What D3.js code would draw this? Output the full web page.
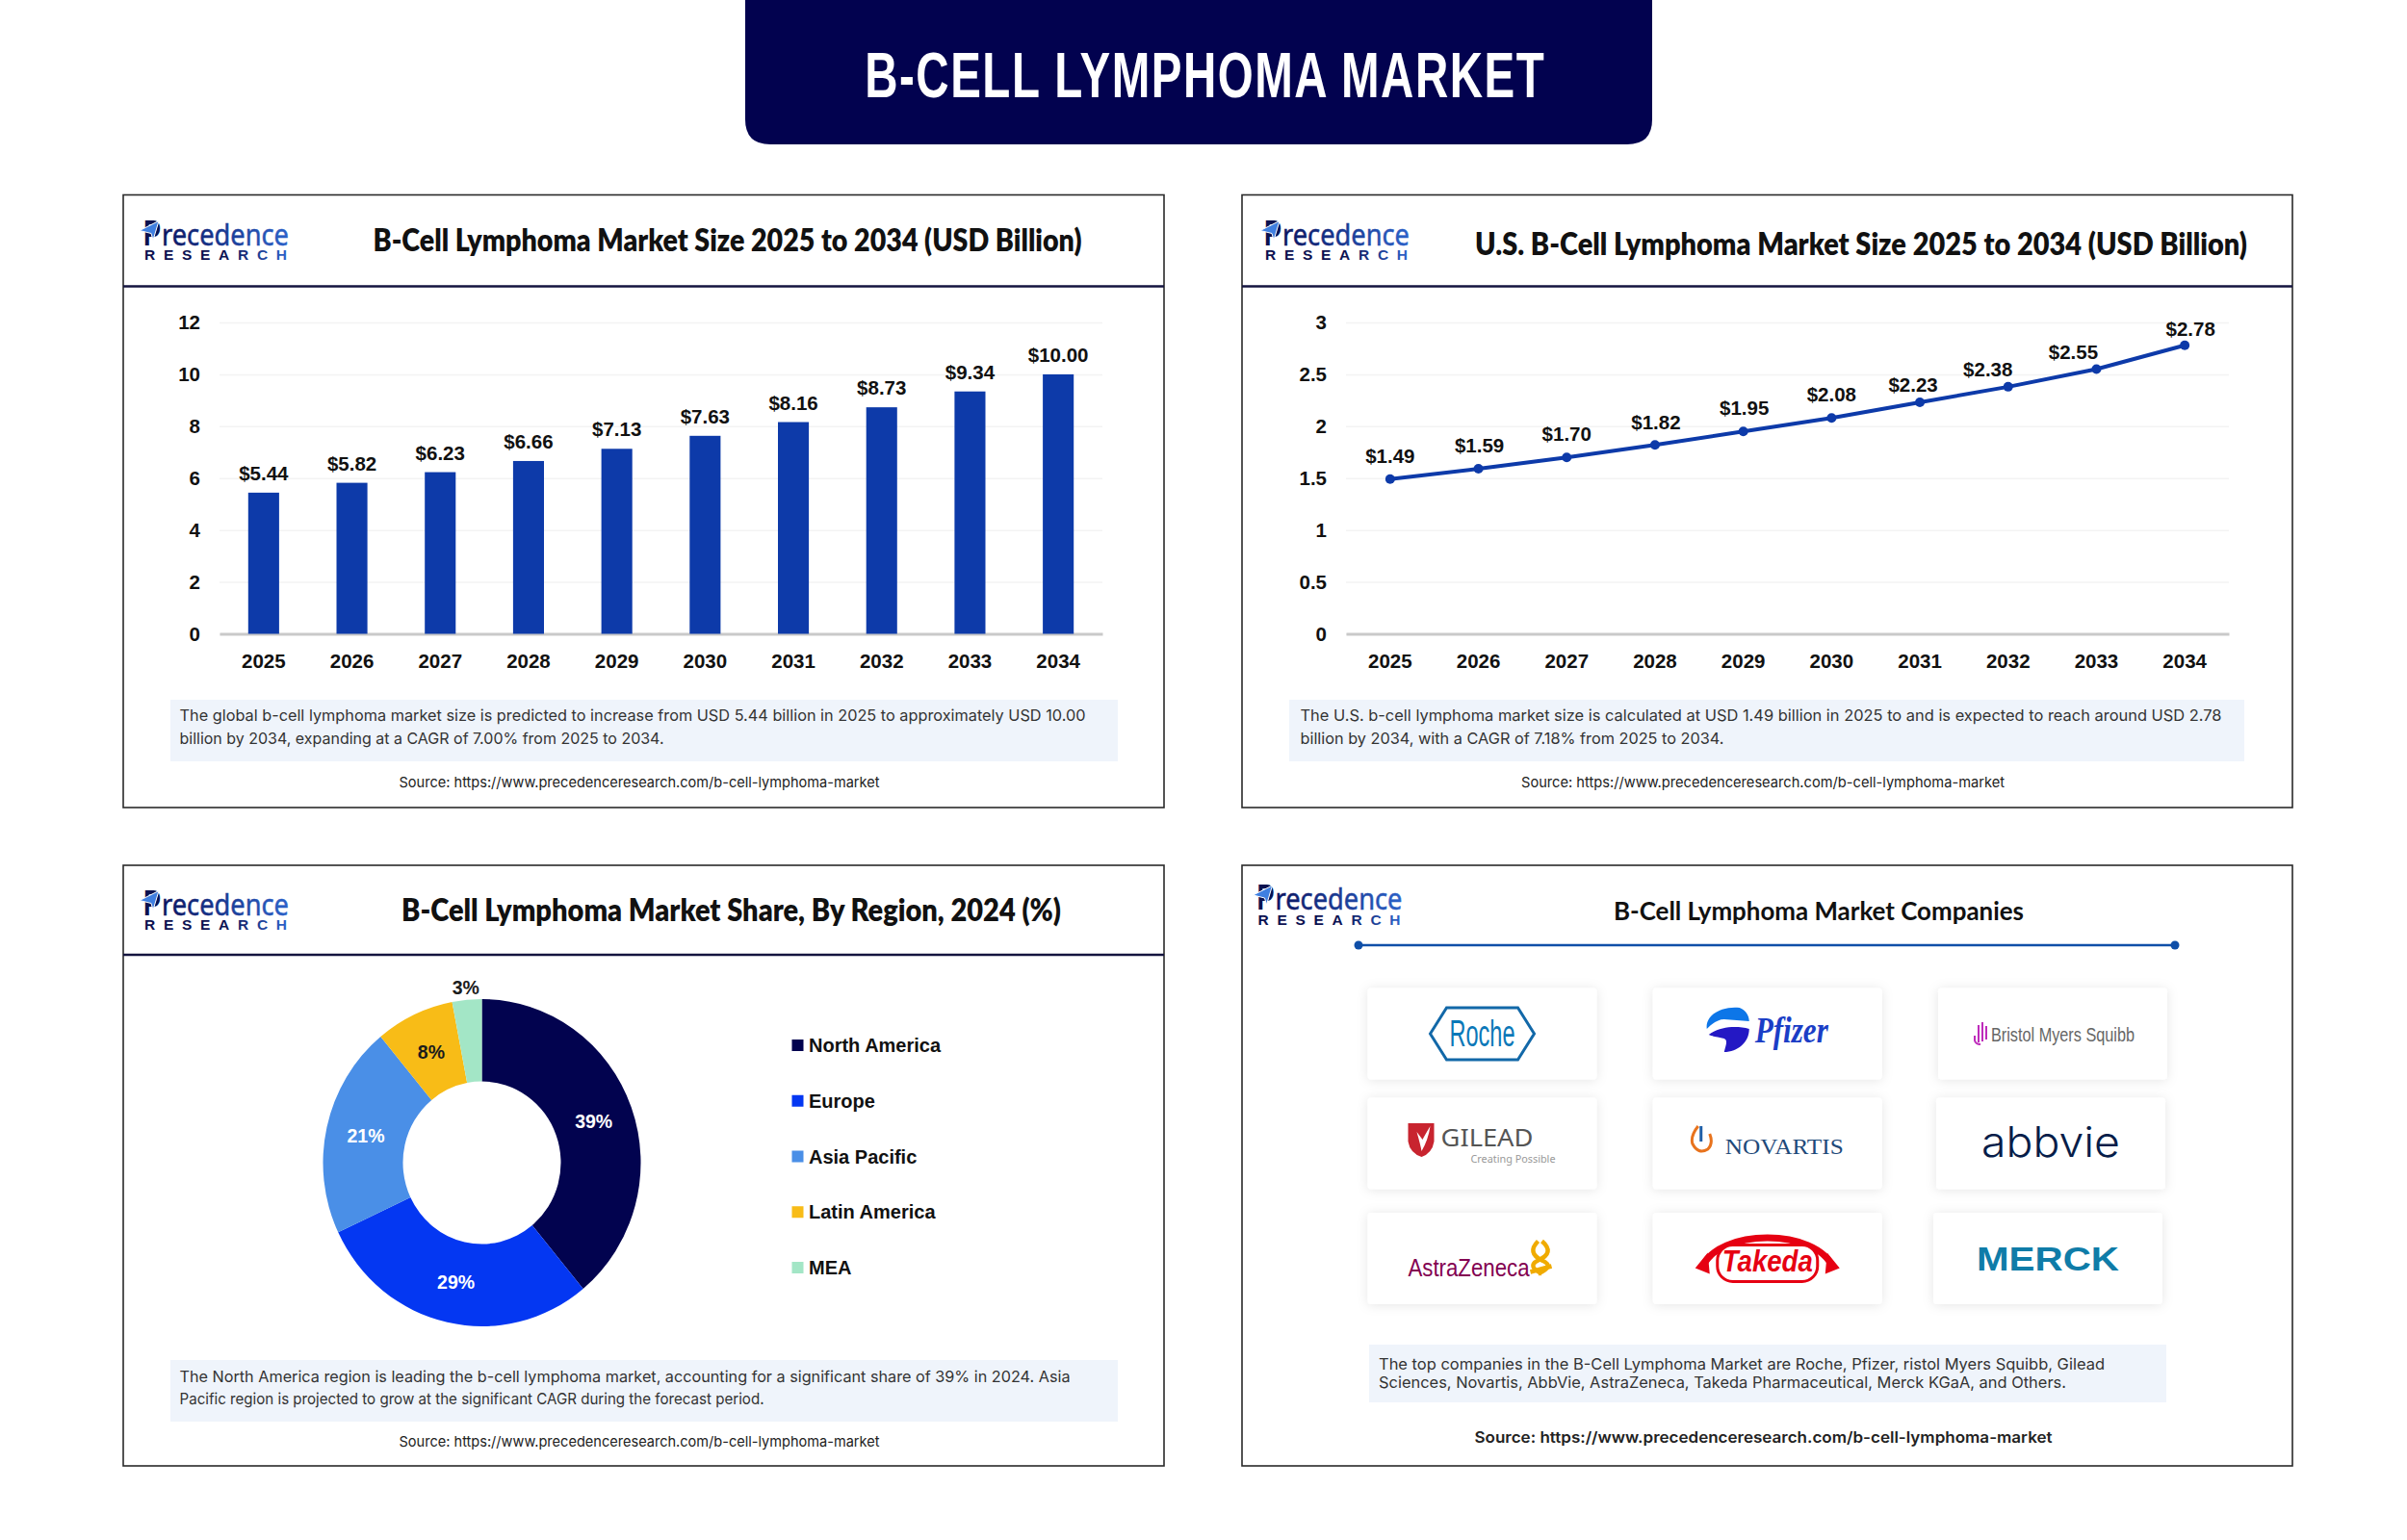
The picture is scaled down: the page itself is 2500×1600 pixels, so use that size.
<!DOCTYPE html>
<html>
<head>
<meta charset="utf-8">
<script src="https://cdn.jsdelivr.net/npm/d3@7"></script>
<style>
  html, body { margin: 0; padding: 0; background: #fff; }
  svg { display: block; }
  .bold-num { font-family: "Liberation Sans", Arial, sans-serif; font-weight: 700; font-size: 20.5px; fill: #111; }
  .panel-title { font-family: Lato, sans-serif; font-weight: 800; font-size: 32px; fill: #111; text-anchor: middle; }
  .body-text { font-family: Inter, sans-serif; font-size: 16.5px; fill: #333; }
  .source { font-family: Inter, sans-serif; font-size: 15px; fill: #222; }
</style>
</head>
<body>
<svg id="chart" width="2500" height="1600"></svg>
<script>
// Chart data
const years = ['2025', '2026', '2027', '2028', '2029', '2030', '2031', '2032', '2033', '2034'];
const globalSize = [5.44, 5.82, 6.23, 6.66, 7.13, 7.63, 8.16, 8.73, 9.34, 10.00];
const usSize = [1.49, 1.59, 1.70, 1.82, 1.95, 2.08, 2.23, 2.38, 2.55, 2.78];
const globalTicks = [0, 2, 4, 6, 8, 10, 12];
const usTicks = [0, 0.5, 1, 1.5, 2, 2.5, 3];
const regions = ['North America', 'Europe', 'Asia Pacific', 'Latin America', 'MEA'];
const regionShare = [39, 29, 21, 8, 3];
const regionColors = ['#02034f', '#0437f2', '#4a8fe7', '#f8bc17', '#a3e6c6'];

const NAVY = '#02024f';
const BLUE = '#0d3aa9';
const SOURCE = 'Source: https://www.precedenceresearch.com/b-cell-lymphoma-market';

const svg = d3.select('#chart');
const defs = svg.append('defs');

const logoGrad = defs.append('linearGradient').attr('id', 'logo-grad');
logoGrad.append('stop').attr('offset', '0%').attr('stop-color', '#0a1560');
logoGrad.append('stop').attr('offset', '100%').attr('stop-color', '#2b62c9');

const researchGrad = defs.append('linearGradient').attr('id', 'research-grad');
researchGrad.append('stop').attr('offset', '55%').attr('stop-color', '#0a1250');
researchGrad.append('stop').attr('offset', '100%').attr('stop-color', '#2b62c9');

const cardShadow = defs.append('filter').attr('id', 'card-shadow')
    .attr('x', '-15%').attr('y', '-25%').attr('width', '130%').attr('height', '150%');
cardShadow.append('feDropShadow')
    .attr('dx', 0).attr('dy', 1).attr('stdDeviation', 6)
    .attr('flood-color', '#000').attr('flood-opacity', 0.1);

// Squeeze or stretch a text to the width measured on the reference
function fit(sel, width) {
    return sel.attr('textLength', width).attr('lengthAdjust', 'spacingAndGlyphs');
}

function addText(parent, cls, x, y, str, width) {
    const t = parent.append('text').attr('class', cls).attr('x', x).attr('y', y).text(str);
    if (width) fit(t, width);
    return t;
}

// Top banner
svg.append('path')
    .attr('d', 'M774,0 H1716 V124 Q1716,150 1690,150 H800 Q774,150 774,124 Z')
    .attr('fill', NAVY);
svg.append('text')
    .attr('transform', 'translate(1251,101) scale(0.72,1)')
    .attr('text-anchor', 'middle')
    .attr('font-family', '"Liberation Sans Narrow", "Liberation Sans", sans-serif')
    .attr('font-weight', 700)
    .attr('font-size', 66)
    .attr('fill', '#fff')
    .attr('textLength', 980)
    .attr('lengthAdjust', 'spacing')
    .text('B-CELL LYMPHOMA MARKET');

function drawPanel(x0, y0, x1, y1, headerY) {
    svg.append('rect')
        .attr('x', x0).attr('y', y0)
        .attr('width', x1 - x0).attr('height', y1 - y0)
        .attr('fill', '#fff').attr('stroke', '#2a2a2a').attr('stroke-width', 1.6);
    if (headerY) {
        svg.append('line')
            .attr('x1', x0).attr('x2', x1).attr('y1', headerY).attr('y2', headerY)
            .attr('stroke', '#14143f').attr('stroke-width', 2.5);
    }
}

// Precedence Research wordmark, x = stem of the P, y = baseline of the big word
function drawLogo(x, y) {
    const g = svg.append('g').attr('transform', `translate(${x},${y})`);
    fit(g.append('text').attr('x', -1).attr('y', 0)
        .attr('font-family', '"Liberation Sans", sans-serif').attr('font-weight', 700)
        .attr('font-size', 36).attr('fill', '#0a1250').text('P'), 18);
    g.append('path').attr('d', 'M-5,-15 L15,-25 L9,-5 L7,-12 Z').attr('fill', '#3f7fe0').attr('stroke', '#fff').attr('stroke-width', 1);
    fit(g.append('text').attr('x', 18).attr('y', 0)
        .attr('font-family', '"Noto Sans", sans-serif').attr('font-size', 31)
        .attr('fill', 'url(#logo-grad)').attr('stroke', 'url(#logo-grad)').attr('stroke-width', 0.5)
        .text('recedence'), 132);
    g.append('text').attr('x', 0).attr('y', 15.5)
        .attr('font-family', '"Liberation Sans", sans-serif').attr('font-weight', 700)
        .attr('font-size', 15.5).attr('fill', 'url(#research-grad)')
        .attr('textLength', 148).attr('lengthAdjust', 'spacing').text('RESEARCH');
}

function drawNote(box, lines, source) {
    svg.append('rect')
        .attr('x', box.x).attr('y', box.y).attr('width', box.w).attr('height', box.h)
        .attr('fill', box.fill || '#eff4fb');
    lines.forEach(l => addText(svg, box.cls || 'body-text', l.x, l.y, l.s, l.w));
    addText(svg, source.cls || 'source', source.x, source.y, SOURCE, source.w);
}

// Shared y axis + x axis for both time series
function drawAxes(g, xScale, yScale, ticks) {
    const [x0, x1] = xScale.range();
    const yAxis = d3.axisLeft(yScale)
        .tickValues(ticks)
        .tickFormat(d => d)
        .tickSize(-(x1 - x0))
        .tickPadding(20);
    const ya = g.append('g').attr('transform', `translate(${x0},0)`).call(yAxis);
    ya.select('.domain').remove();
    ya.selectAll('line').attr('stroke', '#f3f3f3').attr('stroke-width', 1.5);
    ya.selectAll('text').attr('class', 'bold-num');

    const xAxis = d3.axisBottom(xScale).tickSize(0).tickPadding(21);
    const xa = g.append('g').attr('transform', `translate(0,${yScale(0)})`).call(xAxis);
    xa.select('.domain').attr('stroke', '#c9c9c9').attr('stroke-width', 3);
    xa.selectAll('text').attr('class', 'bold-num');
}

// Panel 1: global market size, bars
function drawGlobalBars() {
    drawPanel(128, 202.5, 1209, 839, 297.5);
    drawLogo(150, 254.5);
    addText(svg, 'panel-title', 755.5, 260.5, 'B-Cell Lymphoma Market Size 2025 to 2034 (USD Billion)', 736);

    const x = d3.scaleBand().domain(years).range([228, 1145]).paddingInner(0.65).paddingOuter(0.325);
    const y = d3.scaleLinear().domain([0, 12]).range([658.5, 335]);
    const g = svg.append('g');
    drawAxes(g, x, y, globalTicks);
    g.selectAll('.bar').data(globalSize).enter().append('rect')
        .attr('class', 'bar')
        .attr('x', (d, i) => x(years[i]))
        .attr('y', d => y(d))
        .attr('width', x.bandwidth())
        .attr('height', d => y(0) - y(d))
        .attr('fill', BLUE);
    g.selectAll('.bar-label').data(globalSize).enter().append('text')
        .attr('class', 'bold-num')
        .attr('x', (d, i) => x(years[i]) + x.bandwidth() / 2)
        .attr('y', d => y(d) - 13)
        .attr('text-anchor', 'middle')
        .text(d => '$' + d.toFixed(2));

    drawNote({ x: 177, y: 727, w: 984, h: 64 }, [
        { x: 186.5, y: 749, w: 941, s: 'The global b-cell lymphoma market size is predicted to increase from USD 5.44 billion in 2025 to approximately USD 10.00' },
        { x: 186.5, y: 773, w: 503, s: 'billion by 2034, expanding at a CAGR of 7.00% from 2025 to 2034.' }
    ], { x: 414.5, y: 818, w: 499 });
}

// Panel 2: U.S. market size, line
function drawUsLine() {
    drawPanel(1290, 202.5, 2381, 839, 297.5);
    drawLogo(1314, 254.5);
    addText(svg, 'panel-title', 1933, 265, 'U.S. B-Cell Lymphoma Market Size 2025 to 2034 (USD Billion)', 802);

    const x = d3.scaleBand().domain(years).range([1398, 2315]);
    const y = d3.scaleLinear().domain([0, 3]).range([658.5, 335]);
    const px = i => x(years[i]) + x.bandwidth() / 2;
    const g = svg.append('g');
    drawAxes(g, x, y, usTicks);

    const line = d3.line().x((d, i) => px(i)).y(d => y(d));
    g.append('path').datum(usSize)
        .attr('d', line)
        .attr('fill', 'none').attr('stroke', BLUE).attr('stroke-width', 4);
    g.selectAll('.dot').data(usSize).enter().append('circle')
        .attr('cx', (d, i) => px(i))
        .attr('cy', d => y(d))
        .attr('r', 5)
        .attr('fill', BLUE);

    // labels drift left of the points towards the end of the line
    const labelDx = [0, 1, 0, 1, 1, 0, -7, -21, -24, 6];
    const labelDy = [17, 17, 17, 16, 17, 17, 11, 11, 11, 10];
    g.selectAll('.line-label').data(usSize).enter().append('text')
        .attr('class', 'bold-num')
        .attr('x', (d, i) => px(i) + labelDx[i])
        .attr('y', (d, i) => y(d) - labelDy[i])
        .attr('text-anchor', 'middle')
        .text(d => '$' + d.toFixed(2));

    drawNote({ x: 1339, y: 727, w: 992, h: 64 }, [
        { x: 1350.5, y: 749, w: 957, s: 'The U.S. b-cell lymphoma market size is calculated at USD 1.49 billion in 2025 to and is expected to reach around USD 2.78' },
        { x: 1350.5, y: 773, w: 440, s: 'billion by 2034, with a CAGR of 7.18% from 2025 to 2034.' }
    ], { x: 1580, y: 818, w: 502 });
}

// Panel 3: regional share, donut
function drawRegionDonut() {
    drawPanel(128, 899, 1209, 1523, 992);
    drawLogo(150, 950.5);
    addText(svg, 'panel-title', 759.5, 956.5, 'B-Cell Lymphoma Market Share, By Region, 2024 (%)', 685);

    // the ring is slightly taller than wide in the reference
    const stretchY = 1.03;
    const pie = d3.pie().sort(null)(regionShare);
    const arc = d3.arc().innerRadius(82).outerRadius(165);
    const g = svg.append('g').attr('transform', 'translate(500.5,1208)');
    g.append('g').attr('transform', `scale(1,${stretchY})`)
        .selectAll('path').data(pie).enter().append('path')
        .attr('d', arc)
        .attr('fill', (d, i) => regionColors[i]);

    // the thin MEA slice has its label outside the ring
    const outerArc = d3.arc().innerRadius(178).outerRadius(178);
    g.selectAll('text').data(pie).enter().append('text')
        .attr('class', 'bold-num')
        .attr('transform', (d, i) => {
            const [cx, cy] = (i === 4 ? outerArc : arc).centroid(d);
            return `translate(${cx},${cy * stretchY})`;
        })
        .attr('dy', '0.36em')
        .attr('text-anchor', 'middle')
        .style('font-size', '19.5px')
        .style('fill', (d, i) => i < 3 ? '#fff' : '#1c1c1c')
        .text(d => d.value + '%');

    const legend = d3.scalePoint().domain(regions).range([1086, 1317]);
    regions.forEach((r, i) => {
        svg.append('rect')
            .attr('x', 822.5).attr('y', legend(r) - 6)
            .attr('width', 12).attr('height', 12)
            .attr('fill', regionColors[i]);
        svg.append('text')
            .attr('class', 'bold-num')
            .attr('x', 840).attr('y', legend(r) + 7)
            .style('font-size', '20px')
            .text(r);
    });

    drawNote({ x: 177, y: 1413, w: 984, h: 64 }, [
        { x: 186.5, y: 1436, w: 925, s: 'The North America region is leading the b-cell lymphoma market, accounting for a significant share of 39% in 2024. Asia' },
        { x: 186.5, y: 1459, w: 607, s: 'Pacific region is projected to grow at the significant CAGR during the forecast period.' }
    ], { x: 414.5, y: 1503, w: 499 });
}

// Company logos, drawn around the centre of their card
const logoDrawers = {
    Roche(g) {
        g.append('path').attr('d', 'M-54,0 L-37,-27 L37,-27 L54,0 L37,27 L-37,27 Z')
            .attr('fill', 'none').attr('stroke', '#1268a8').attr('stroke-width', 3);
        fit(g.append('text').attr('x', 0).attr('y', 13).attr('text-anchor', 'middle')
            .attr('font-family', '"Liberation Sans Narrow", sans-serif').attr('font-size', 38)
            .attr('fill', '#0b78b8').text('Roche'), 68);
    },
    Pfizer(g) {
        const icon = g.append('g').attr('transform', 'translate(-41,-3)');
        icon.append('path').attr('d', 'M-22,-2 C-24,-18 -4,-26 12,-24 C18,-22 22,-16 22,-10 L-4,-12 C-10,-12 -16,-8 -22,-2 Z').attr('fill', '#0d76e8');
        icon.append('path').attr('d', 'M-20,4 C-10,-4 8,-6 22,-2 C22,12 10,22 -4,22 C-2,14 0,10 -4,8 C-10,6 -16,6 -20,4 Z').attr('fill', '#2418c4');
        fit(g.append('text').attr('x', -13).attr('y', 9)
            .attr('font-family', '"Liberation Serif", serif').attr('font-style', 'italic').attr('font-weight', 700)
            .attr('font-size', 38).attr('fill', '#1b3ec6').text('Pfizer'), 76);
    },
    'Bristol Myers Squibb'(g) {
        const hand = g.append('g').attr('transform', 'translate(-75,0)').attr('stroke', '#be2bbb').attr('stroke-width', 2).attr('fill', 'none');
        hand.append('path').attr('d', 'M-6,2 L-6,7 Q-5,11 0,11 M-2,-9 L-2,9 M2,-12 L2,8 M6,-8 L6,6');
        fit(g.append('text').attr('x', -64).attr('y', 8)
            .attr('font-family', '"Liberation Sans Narrow", sans-serif').attr('font-size', 21)
            .attr('fill', '#666').text('Bristol Myers Squibb'), 149);
    },
    Gilead(g) {
        g.append('path').attr('d', 'M-77,-21 L-50,-21 L-50,-2 Q-52,10 -63,14 Q-75,10 -77,-2 Z').attr('fill', '#c8242f');
        g.append('path').attr('d', 'M-68,-12 Q-64,2 -63,8 Q-56,-4 -54,-18 Q-60,-8 -62,-4 Z').attr('fill', '#fff');
        fit(g.append('text').attr('x', -43).attr('y', 3)
            .attr('font-family', '"Noto Sans", sans-serif').attr('font-size', 25)
            .attr('fill', '#555').text('GILEAD'), 96);
        fit(g.append('text').attr('x', -12).attr('y', 20)
            .attr('font-family', '"Noto Sans", sans-serif').attr('font-size', 10)
            .attr('fill', '#999').text('Creating Possible'), 88);
    },
    Novartis(g) {
        g.append('path').attr('d', 'M-72,-18 Q-80,-8 -78,0 Q-72,12 -62,6 Q-56,0 -60,-10').attr('fill', 'none').attr('stroke', '#e8731d').attr('stroke-width', 3);
        g.append('path').attr('d', 'M-69,-18 L-69,-2').attr('stroke', '#1f5fa8').attr('stroke-width', 3);
        fit(g.append('text').attr('x', -44).attr('y', 11)
            .attr('font-family', '"Liberation Serif", serif').attr('font-size', 23)
            .attr('fill', '#1f4a7a').text('NOVARTIS'), 123);
    },
    AbbVie(g) {
        fit(g.append('text').attr('x', 0).attr('y', 14).attr('text-anchor', 'middle')
            .attr('font-family', 'Inter, sans-serif').attr('font-weight', 300).attr('font-size', 44)
            .attr('fill', '#071d49').text('abbvie'), 144);
    },
    AstraZeneca(g) {
        fit(g.append('text').attr('x', -77).attr('y', 18)
            .attr('font-family', '"Liberation Sans Narrow", sans-serif').attr('font-size', 25)
            .attr('fill', '#830051').text('AstraZeneca'), 126);
        g.append('path').attr('d', 'M58,-18 Q46,-6 62,2 Q76,8 58,16 M62,-18 Q76,-6 58,2 Q46,8 62,16 M50,14 L72,8')
            .attr('fill', 'none').attr('stroke', '#f0ab00').attr('stroke-width', 4.5);
    },
    Takeda(g) {
        g.append('path').attr('d', 'M-68,10 C-52,-32 52,-32 68,10')
            .attr('fill', 'none').attr('stroke', '#e60012').attr('stroke-width', 7);
        g.append('path').attr('d', 'M-75,10 L-62,-6 L-60,16 Z M75,10 L62,-6 L60,16 Z').attr('fill', '#e60012');
        g.append('rect').attr('x', -52).attr('y', -14).attr('width', 104).attr('height', 38).attr('rx', 16)
            .attr('fill', '#fff').attr('stroke', '#e60012').attr('stroke-width', 3);
        fit(g.append('text').attr('x', 0).attr('y', 13).attr('text-anchor', 'middle')
            .attr('font-family', '"Liberation Sans", sans-serif').attr('font-style', 'italic').attr('font-weight', 700)
            .attr('font-size', 31).attr('fill', '#e60012').text('Takeda'), 94);
    },
    Merck(g) {
        fit(g.append('text').attr('x', 0).attr('y', 12).attr('text-anchor', 'middle')
            .attr('font-family', '"Liberation Sans", sans-serif').attr('font-weight', 700).attr('font-size', 35)
            .attr('fill', '#0f7ca8').text('MERCK'), 148);
    }
};
const companies = ['Roche', 'Pfizer', 'Bristol Myers Squibb', 'Gilead', 'Novartis', 'AbbVie', 'AstraZeneca', 'Takeda', 'Merck'];

// Panel 4: company logo grid
function drawCompanies() {
    drawPanel(1290, 899, 2381, 1523);
    drawLogo(1306.5, 945);
    addText(svg, 'panel-title', 1889, 956, 'B-Cell Lymphoma Market Companies', 426).style('font-size', '26px').style('font-weight', 700);

    svg.append('line').attr('x1', 1411).attr('x2', 2259).attr('y1', 982).attr('y2', 982)
        .attr('stroke', '#0f4fa8').attr('stroke-width', 2.5);
    [1411, 2259].forEach(cx => svg.append('circle').attr('cx', cx).attr('cy', 982).attr('r', 4.5).attr('fill', '#0f4fa8'));

    const colX = d3.scalePoint().domain([0, 1, 2]).range([1539.5, 2132]);
    const rowY = [1074, 1188, 1307.5];
    const lastColDrift = [0, -2, -5];
    companies.forEach((name, i) => {
        const row = Math.floor(i / 3), col = i % 3;
        const cx = colX(col) + (col === 2 ? lastColDrift[row] : 0), cy = rowY[row];
        svg.append('rect')
            .attr('x', cx - 119).attr('y', cy - 47.5).attr('width', 238).attr('height', 95).attr('rx', 4)
            .attr('fill', '#fff').attr('filter', 'url(#card-shadow)');
        logoDrawers[name](svg.append('g').attr('transform', `translate(${cx},${cy})`));
    });

    drawNote({ x: 1422, y: 1397, w: 828, h: 60 }, [
        { x: 1432, y: 1423, w: 754, s: 'The top companies in the B-Cell Lymphoma Market are Roche, Pfizer, ristol Myers Squibb, Gilead' },
        { x: 1432, y: 1442, w: 714, s: 'Sciences, Novartis, AbbVie, AstraZeneca, Takeda Pharmaceutical, Merck KGaA, and Others.' }
    ], { x: 1531.5, y: 1499, w: 600, cls: 'source src-bold' });
    svg.selectAll('.src-bold').style('font-weight', 600).style('font-size', '16px');
}

drawGlobalBars();
drawUsLine();
drawRegionDonut();
drawCompanies();
</script>
</body>
</html>
